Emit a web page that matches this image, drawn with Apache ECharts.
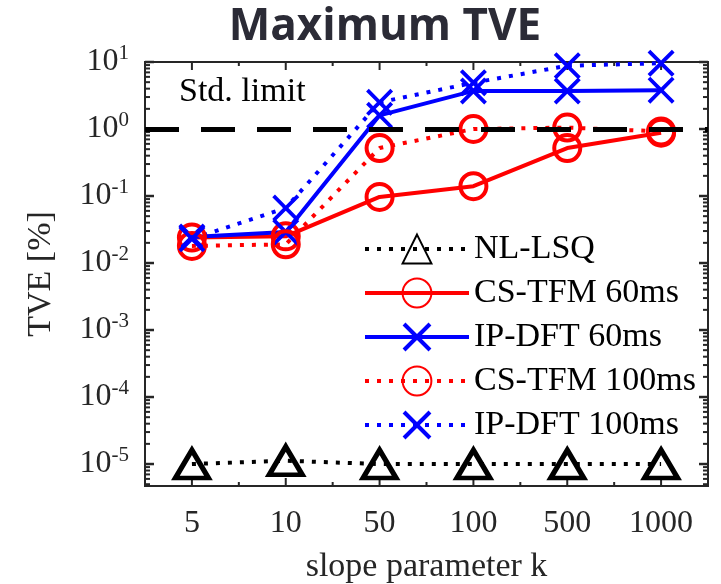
<!DOCTYPE html>
<html>
<head>
<meta charset="utf-8">
<script src="https://cdn.jsdelivr.net/npm/echarts@6/dist/echarts.min.js"></script>
<style>html,body{margin:0;padding:0;background:#fff;}#c{width:721px;height:584px;}</style>
</head>
<body>
<div id="c"></div>
<script>
// ---- data ----
const categories = ['5', '10', '50', '100', '500', '1000'];
const nlLsq    = [1.0e-5, 1.12e-5, 1.0e-5, 1.0e-5, 1.0e-5, 1.0e-5];
const csTfm60  = [0.024, 0.025, 0.097, 0.14, 0.52, 0.88];
const ipDft60  = [0.0245, 0.029, 1.6, 3.7, 3.7, 3.8];
const csTfm100 = [0.018, 0.019, 0.52, 1.0, 1.05, 0.92];
const ipDft100 = [0.023, 0.066, 2.5, 4.9, 8.8, 9.6];
const stdLimit = 1;
const yMajorTicks = [1e-5, 1e-4, 1e-3, 1e-2, 1e-1, 1, 10];
const seriesNames = ['NL-LSQ', 'CS-TFM 60ms', 'IP-DFT 60ms', 'CS-TFM 100ms', 'IP-DFT 100ms'];

const Y_MIN = 4.7e-6, Y_MAX = 10;
const yMinorTicks = [];
for (let k = -6; k <= 0; k++) {
  for (let m = 2; m <= 9; m++) {
    const v = m * Math.pow(10, k);
    if (v >= Y_MIN && v <= Y_MAX) yMinorTicks.push(v);
  }
}

const AX = '#262626';
const SERIF = 'Liberation Serif';
const X_PATH = 'path://M0,10 L10,0 L50,40 L90,0 L100,10 L60,50 L100,90 L90,100 L50,60 L10,100 L0,90 L40,50 Z';
const DOT = [4, 8];

function expLabel(v) {
  const l = Math.log10(v);
  const e = Math.round(l);
  if (Math.abs(l - e) > 0.01) return '';
  return '{b|10}{s|' + e + '}';
}

// tick marks drawn through the axis scales (inside, on both sides)
function yTicks(len, lw) {
  return function (params, api) {
    const cs = params.coordSys;
    const y = api.coord([0, api.value(1)])[1];
    const st = {stroke: AX, lineWidth: lw};
    return {type: 'group', children: [
      {type: 'line', shape: {x1: cs.x, y1: y, x2: cs.x + len, y2: y}, style: st},
      {type: 'line', shape: {x1: cs.x + cs.width, y1: y, x2: cs.x + cs.width - len, y2: y}, style: st}
    ]};
  };
}
function xTicks(len, lw, offsetHalf) {
  return function (params, api) {
    const cs = params.coordSys;
    let x = api.coord([api.value(0), Y_MAX])[0];
    if (offsetHalf) x += api.size([1, 0])[0] / 2;
    const st = {stroke: AX, lineWidth: lw};
    return {type: 'group', children: [
      {type: 'line', shape: {x1: x, y1: cs.y + cs.height, x2: x, y2: cs.y + cs.height - len}, style: st},
      {type: 'line', shape: {x1: x, y1: cs.y, x2: x, y2: cs.y + len}, style: st}
    ]};
  };
}

const chart = echarts.init(document.getElementById('c'), null, {renderer: 'canvas'});

const option = {
  animation: false,
  backgroundColor: '#fff',
  grid: {left: 145, right: 13, top: 62, bottom: 98, containLabel: false, outerBoundsMode: 'none',
         show: true, borderColor: AX, borderWidth: 2, backgroundColor: 'transparent'},
  xAxis: {
    type: 'category', data: categories, boundaryGap: true, position: 'bottom',
    axisLine: {show: false}, axisTick: {show: false}, splitLine: {show: false},
    name: 'slope parameter k', nameLocation: 'middle', nameGap: 64,
    nameTextStyle: {fontFamily: SERIF, fontSize: 34, color: AX},
    axisLabel: {show: true, margin: 22, fontFamily: SERIF, fontSize: 32, color: AX}
  },
  yAxis: {
    type: 'log', logBase: 10, min: Y_MIN, max: Y_MAX, position: 'left',
    axisLine: {show: false}, axisTick: {show: false}, splitLine: {show: false}, minorTick: {show: false},
    name: 'TVE [%]', nameLocation: 'middle', nameGap: 87, nameRotate: 90,
    nameTextStyle: {fontFamily: SERIF, fontSize: 34, color: AX},
    axisLabel: {
      show: true, margin: 16, customValues: yMajorTicks, showMinLabel: true,
      formatter: expLabel,
      rich: {
        b: {fontFamily: SERIF, fontSize: 32, color: AX, lineHeight: 32},
        s: {fontFamily: SERIF, fontSize: 21, color: AX, lineHeight: 21, padding: [0, 0, 18, 0]}
      }
    }
  },
  legend: {
    data: seriesNames,
    orient: 'vertical', left: 358, top: 227,
    itemWidth: 104, itemHeight: 36, itemGap: 10,
    lineStyle: {width: 4},
    textStyle: {fontFamily: SERIF, fontSize: 34, color: '#000'},
    selectedMode: false
  },
  graphic: [
    {type: 'text', x: 385, y: 27, z: 100,
     style: {text: 'Maximum TVE', fill: '#2b2b36', font: 'bold 44px "Open Sans"', textAlign: 'center', textVerticalAlign: 'middle'}},
    {type: 'text', left: 179, top: 75, z: 100,
     style: {text: 'Std. limit', fill: '#000', font: '34px "Liberation Serif"'}}
  ],
  series: [
    {
      name: 'NL-LSQ', type: 'line', data: nlLsq,
      symbol: 'triangle', symbolSize: [33, 28],
      lineStyle: {color: '#000', width: 4, type: DOT},
      itemStyle: {color: 'rgba(0,0,0,0)', borderColor: '#000', borderWidth: 5}
    },
    {
      name: 'CS-TFM 60ms', type: 'line', data: csTfm60,
      symbol: 'circle', symbolSize: 26,
      lineStyle: {color: '#ff0000', width: 4, type: 'solid'},
      itemStyle: {color: 'rgba(0,0,0,0)', borderColor: '#ff0000', borderWidth: 4}
    },
    {
      name: 'IP-DFT 60ms', type: 'line', data: ipDft60,
      symbol: X_PATH, symbolSize: 27,
      lineStyle: {color: '#0000ff', width: 4, type: 'solid'},
      itemStyle: {color: '#0000ff', borderWidth: 0}
    },
    {
      name: 'CS-TFM 100ms', type: 'line', data: csTfm100,
      symbol: 'circle', symbolSize: 26,
      lineStyle: {color: '#ff0000', width: 4, type: DOT},
      itemStyle: {color: 'rgba(0,0,0,0)', borderColor: '#ff0000', borderWidth: 4}
    },
    {
      name: 'IP-DFT 100ms', type: 'line', data: ipDft100,
      symbol: X_PATH, symbolSize: 27,
      lineStyle: {color: '#0000ff', width: 4, type: DOT},
      itemStyle: {color: '#0000ff', borderWidth: 0}
    },
    {
      name: 'Std. limit', type: 'line', data: [], z: 10,
      markLine: {
        silent: true, symbol: ['none', 'none'], animation: false,
        label: {show: false},
        lineStyle: {color: '#000', width: 5, type: [34, 22]},
        data: [{yAxis: stdLimit}]
      }
    },
    {name: 'yMajor', type: 'custom', silent: true, clip: false, z: 1,
     renderItem: yTicks(9, 2.5), data: yMajorTicks.map(v => [0, v])},
    {name: 'yMinor', type: 'custom', silent: true, clip: false, z: 1,
     renderItem: yTicks(5, 2), data: yMinorTicks.map(v => [0, v])},
    {name: 'xMajor', type: 'custom', silent: true, clip: false, z: 1,
     renderItem: xTicks(8, 2, false), data: categories.map((c, i) => [i, Y_MAX])},
    {name: 'xMinor', type: 'custom', silent: true, clip: false, z: 1,
     renderItem: xTicks(4, 2, true), data: categories.slice(0, -1).map((c, i) => [i, Y_MAX])}
  ]
};
chart.setOption(option);
</script>
</body>
</html>
